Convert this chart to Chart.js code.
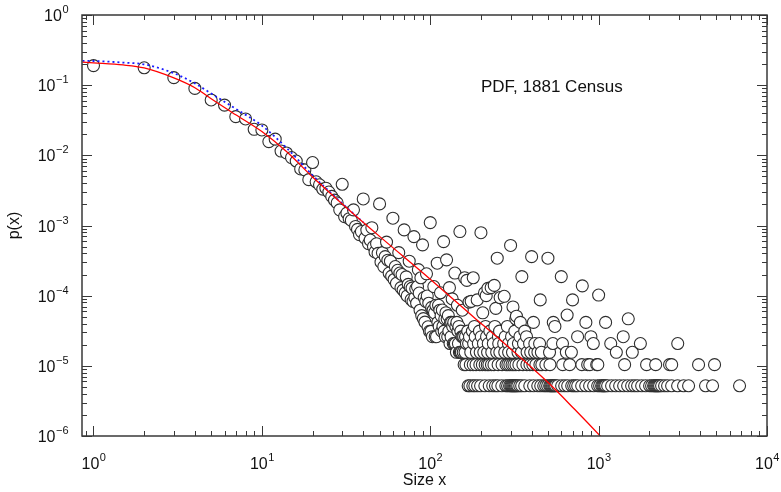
<!DOCTYPE html>
<html>
<head>
<meta charset="utf-8">
<title>PDF, 1881 Census</title>
<script src="https://cdn.jsdelivr.net/npm/chart.js@4.4.1/dist/chart.umd.min.js"></script>
<style>
  body { margin: 0; background: #fff; }
  canvas { display: block; }
</style>
</head>
<body>
<canvas id="pdfChart" width="781" height="492"></canvas>
<script>
// Sizes and probabilities (one point per size)
const sizes = [
    1, 2, 3, 4, 5, 6, 7, 8, 9, 10, 11, 12, 13, 14, 15, 16, 17, 18, 19, 20,
    21, 22, 23, 24, 25, 26, 27, 28, 29, 30, 31, 32, 33, 34, 35, 36, 37, 38, 39, 40,
    41, 42, 43, 44, 45, 46, 47, 48, 49, 50, 51, 52, 53, 54, 55, 56, 57, 58, 59, 60,
    61, 62, 63, 64, 65, 66, 67, 68, 69, 70, 71, 72, 73, 74, 75, 76, 77, 78, 79, 80,
    81, 82, 83, 84, 85, 86, 87, 88, 89, 90, 91, 92, 93, 94, 95, 96, 97, 98, 99, 100,
    101, 102, 103, 104, 105, 106, 107, 108, 109,
    110, 112, 114, 115, 120, 125, 130, 135, 140, 145, 150, 155, 160, 165, 170, 175, 180, 190,
    200, 205, 210, 215, 220, 230, 240, 245, 250, 260, 275, 300, 310, 322, 325, 350,
    400, 450, 500, 600, 650, 700, 800, 1000, 1500
];
const probs = [
    0.19, 0.177, 0.128, 0.090, 0.0615, 0.052, 0.0356, 0.033, 0.0235, 0.023,
    0.0157, 0.017, 0.0115, 0.0108, 0.0093, 0.0083, 0.0064, 0.0062, 0.0045, 0.0079,
    0.0042, 0.0038, 0.0033, 0.0034, 0.0030, 0.0026, 0.0023, 0.0021, 0.00167, 0.00387,
    0.00134, 0.0015, 0.00125, 0.00118, 0.00167, 0.00097, 0.00088, 0.00074, 0.00082, 0.00239,
    0.00066, 0.00086, 0.00055, 0.00062, 0.00093, 0.0005, 0.00042, 0.00055, 0.0004, 0.00203,
    0.0003, 0.00041, 0.00026, 0.00036, 0.00058, 0.00032, 0.00021, 0.00031, 0.00019, 0.00127,
    0.00017, 0.00026, 0.00015, 0.00023, 0.00041, 0.00021, 0.00013, 0.0002, 0.00012, 0.000865,
    0.00011, 0.000185, 0.000099, 0.000145, 0.00031, 0.000135, 0.000088, 0.000128, 0.000083, 0.000695,
    0.000094, 0.000125, 0.000078, 0.000135, 0.000235, 0.000109, 0.000062, 0.00018, 0.000052, 0.00053,
    0.000047, 0.000094, 0.000042, 0.000083, 0.000205, 0.000099, 0.000036, 0.000078, 0.000031, 0.0011,
    0.000031, 0.000068, 0.000026, 0.000062, 0.000135, 0.000057, 0.000026, 0.000073, 0.000026,
    0.00029, 0.000073, 0.000062, 0.00011, 0.00059, 0.000324, 0.00013, 0.00009, 0.00021, 0.000073,
    0.00082, 0.000062, 0.00018, 0.000165, 0.000081, 0.000083, 0.00018, 0.000087,
    0.00079, 0.000057, 0.00011, 0.0001, 0.000127, 0.00013, 0.00014, 0.000066, 0.000342, 0.000094,
    0.000098, 0.00052, 0.000069, 0.0000468, 0.000051, 0.000187,
    0.00036, 0.000087, 0.000342, 0.000187, 0.000053, 0.000087, 0.000138, 0.000102, 0.0000468
];

// Sizes seen only a few times sit on flat rows (1, 2, 3 ... counts)
const rowProbs = [5.2e-6, 1.04e-5, 1.56e-5, 2.08e-5, 2.6e-5, 3.12e-5, 3.64e-5, 4.16e-5, 4.68e-5, 5.2e-5, 5.72e-5, 6.24e-5];
const rowSizes = [
    [168, 172, 179, 184, 191, 199, 211, 224, 235, 244, 252, 266, 281, 288, 296, 301, 305, 309, 313, 317,
     321, 326, 331, 340, 349, 364, 390, 411, 435, 453, 472, 485, 498, 512, 519, 526, 533, 541, 548, 556,
     571, 603, 629, 655, 692, 711, 730, 751, 793, 838, 884, 934, 987, 1014, 1042, 1057, 1071, 1086, 1101, 1131,
     1194, 1262, 1333, 1408, 1487, 1570, 1636, 1704, 1801, 1901, 2008, 2064, 2121, 2150, 2180, 2210, 2240, 2271,
     2302, 2366, 2465, 2568, 2713, 2945, 3195, 3422, 4315, 4750, 6870],
    [159, 163, 173, 180, 187, 197, 204, 212, 218, 223, 231, 239, 253, 267, 282, 289, 297, 306, 314, 323,
     336, 355, 375, 391, 407, 424, 448, 460, 486, 514, 612, 673, 795, 861, 886, 974, 989, 1427, 1927, 2182,
     2638, 2716, 3922, 4881],
    [143, 149, 151, 153, 157, 161, 174, 188, 198, 208, 219, 232, 248, 259, 277, 292, 308, 332, 348, 376,
     395, 417, 436, 457, 511, 643, 689, 1274, 1585],
    [131, 137, 139, 141, 147, 164, 169, 181, 193, 207, 221, 237, 255, 273, 291, 312, 334, 358, 389, 418,
     446, 535, 610, 930, 1180, 1770, 2950],
    [123, 127, 133, 154, 156, 158, 162, 171, 185, 201, 216, 234, 254, 279, 304, 341, 373, 750, 900, 1400],
    [117, 121, 129, 146, 152, 167, 178, 196, 226, 258, 318, 364],
    [113, 119, 136, 142, 148, 183, 213, 242, 287, 550],
    [111, 132, 134, 138, 144, 343, 410, 538, 840, 1100],
    [122, 126],
    [116, 128],
    [124],
    [118]
];

// Fitted curves (solid red, dotted blue)
const fitSizes = [0.86, 1, 1.5, 2, 3, 4, 5, 7, 10, 14, 20, 30, 50, 100, 180, 260, 512, 720, 1030, 1300];
const fitProbs = [0.213, 0.208, 0.194, 0.176, 0.127, 0.092, 0.064, 0.0378, 0.0218, 0.0113, 0.0049, 0.00203,
    0.0007, 0.000172, 0.0000501, 0.0000235, 0.0000055, 0.0000024, 0.00000098, 0.00000054];
const altFitSizes = [0.86, 1, 1.5, 2, 3, 4, 5, 7, 10, 14, 20, 30, 40];
const altFitProbs = [0.222, 0.221, 0.21, 0.198, 0.148, 0.106, 0.076, 0.046, 0.0265, 0.0128, 0.0052, 0.00206, 0.00111];

// Axis decades
const xDecades = [0, 1, 2, 3, 4];
const yDecades = [-6, -5, -4, -3, -2, -1, 0];

const FONT = '"Liberation Sans", Arial, Helvetica, sans-serif';

let points = sizes.map((x, i) => ({ x: x, y: probs[i] }));
rowSizes.forEach((row, i) => {
    row.forEach(x => points.push({ x: x, y: rowProbs[i] }));
});
points.sort((a, b) => a.x - b.x);

function drawPower(ctx, exp, x, y, align) {
    const base = '10';
    const sup = exp < 0 ? '\u2212' + (-exp) : String(exp);
    ctx.font = '16px ' + FONT;
    const wb = ctx.measureText(base).width;
    ctx.font = '11px ' + FONT;
    const ws = ctx.measureText(sup).width;
    const left = align === 'center' ? x - (wb + ws) / 2 : x - (wb + ws);
    ctx.textAlign = 'left';
    ctx.textBaseline = 'alphabetic';
    ctx.font = '16px ' + FONT;
    ctx.fillText(base, left, y);
    ctx.font = '11px ' + FONT;
    ctx.fillText(sup, left + wb + 0.5, y - 8);
}

// Box, inward ticks on all sides, power-of-ten labels and texts
const framePlugin = {
    id: 'framePlugin',
    afterDraw(chart) {
        const ctx = chart.ctx;
        const a = chart.chartArea;
        const xs = chart.scales.x;
        const ys = chart.scales.y;
        ctx.save();
        ctx.strokeStyle = '#383838';
        ctx.lineWidth = 1;
        ctx.beginPath();
        for (let k = -1; k <= 4; k++) {
            for (let m = 1; m <= 9; m++) {
                const v = m * Math.pow(10, k);
                if (v < xs.min || v > xs.max) continue;
                const px = Math.round(xs.getPixelForValue(v)) + 0.5;
                const len = m === 1 ? 10 : 5;
                ctx.moveTo(px, a.bottom); ctx.lineTo(px, a.bottom - len);
                ctx.moveTo(px, a.top); ctx.lineTo(px, a.top + len);
            }
        }
        for (let k = -6; k <= 0; k++) {
            for (let m = 1; m <= 9; m++) {
                const v = m * Math.pow(10, k);
                if (v < ys.min * 0.999 || v > ys.max * 1.001) continue;
                const py = Math.round(ys.getPixelForValue(v)) + 0.5;
                const len = m === 1 ? 10 : 5;
                ctx.moveTo(a.left, py); ctx.lineTo(a.left + len, py);
                ctx.moveTo(a.right, py); ctx.lineTo(a.right - len, py);
            }
        }
        ctx.stroke();
        ctx.lineWidth = 1.5;
        ctx.strokeRect(a.left, a.top, a.right - a.left, a.bottom - a.top);

        ctx.fillStyle = '#111';
        xDecades.forEach(d => {
            drawPower(ctx, d, xs.getPixelForValue(Math.pow(10, d)), 469, 'center');
        });
        yDecades.forEach(d => {
            drawPower(ctx, d, 68, ys.getPixelForValue(Math.pow(10, d)) + 6, 'right');
        });

        ctx.font = '16px ' + FONT;
        ctx.textAlign = 'center';
        ctx.textBaseline = 'alphabetic';
        ctx.fillText('Size x', (a.left + a.right) / 2, 485);
        ctx.save();
        ctx.translate(19, (a.top + a.bottom) / 2);
        ctx.rotate(-Math.PI / 2);
        ctx.fillText('p(x)', 0, 0);
        ctx.restore();

        ctx.font = '17px ' + FONT;
        ctx.textAlign = 'left';
        ctx.fillText('PDF, 1881 Census', 481, 92);
        ctx.restore();
    }
};

new Chart(document.getElementById('pdfChart'), {
    type: 'scatter',
    data: {
        datasets: [
            {
                label: 'fit',
                type: 'line',
                data: fitSizes.map((x, i) => ({ x: x, y: fitProbs[i] })),
                borderColor: '#ff0000',
                borderWidth: 1.3,
                pointRadius: 0,
                fill: false,
                cubicInterpolationMode: 'monotone',
                order: 0
            },
            {
                label: 'alt fit',
                type: 'line',
                data: altFitSizes.map((x, i) => ({ x: x, y: altFitProbs[i] })),
                borderColor: '#1a1aff',
                borderWidth: 1.8,
                borderDash: [2, 3],
                pointRadius: 0,
                fill: false,
                cubicInterpolationMode: 'monotone',
                order: 1
            },
            {
                label: 'data',
                data: points,
                pointRadius: 6,
                pointBorderWidth: 1.1,
                borderColor: '#2e2e2e',
                backgroundColor: '#ffffff',
                pointHoverRadius: 6,
                order: 2
            }
        ]
    },
    options: {
        responsive: false,
        animation: false,
        devicePixelRatio: 1,
        layout: { padding: { top: 15, right: 14, left: 0, bottom: 0 } },
        plugins: {
            legend: { display: false },
            tooltip: { enabled: false }
        },
        scales: {
            x: {
                type: 'logarithmic',
                min: 0.8545,
                max: 10000,
                ticks: { display: false },
                grid: { display: false },
                border: { display: false },
                afterFit: function(scale) { scale.height = 56; }
            },
            y: {
                type: 'logarithmic',
                min: 1e-6,
                max: 1,
                ticks: { display: false },
                grid: { display: false },
                border: { display: false },
                afterFit: function(scale) { scale.width = 82; }
            }
        }
    },
    plugins: [framePlugin]
});
</script>
</body>
</html>
